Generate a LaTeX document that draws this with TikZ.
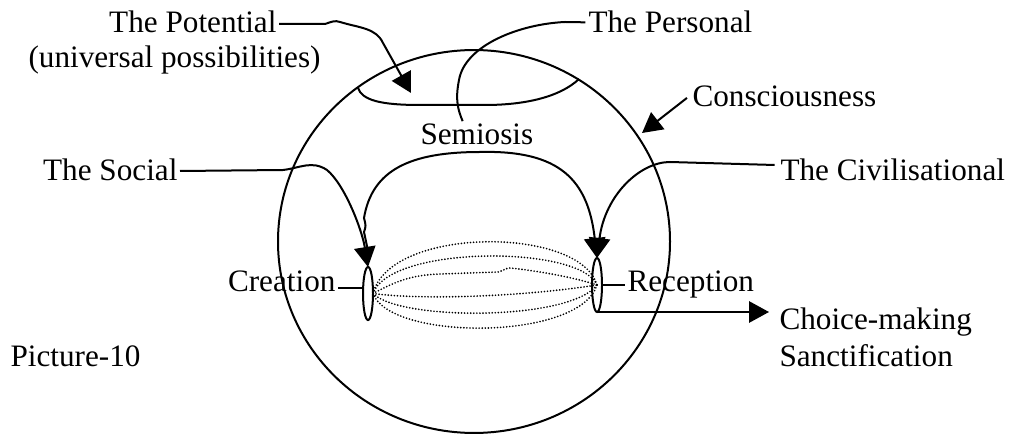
\documentclass[tikz,border=0pt]{standalone}
\usepackage{fontspec}
\setmainfont{Liberation Serif}
\usetikzlibrary{arrows.meta,calc,shapes.geometric}
\begin{document}
\begin{tikzpicture}[x=0.375pt,y=-0.375pt,
  lbl/.style={inner sep=0pt,font=\fontsize{11.7}{13}\selectfont},
  ln/.style={line width=0.75pt},
  arr/.style={ln,-{Triangle[length=7.5pt,width=8pt]}},
  dots/.style={line width=0.7pt,line cap=round,dash pattern=on 0pt off 1.15pt},
  lens/.style={ellipse,draw,ln,inner sep=0pt,outer sep=0pt}
]
\useasboundingbox (0,0) rectangle (1012,434);
% labels
\node[lbl,anchor=base east] (potential) at (277,33) {The Potential};
\node[lbl,anchor=base west] (potential2) at (28,68) {(universal possibilities)};
\node[lbl,anchor=base west] (personal) at (588,33) {The Personal};
\node[lbl,anchor=base west] (consc) at (692,107) {Consciousness};
\node[lbl,anchor=base west] (semiosis) at (420,145) {Semiosis};
\node[lbl,anchor=base east] (social) at (178,181) {The Social};
\node[lbl,anchor=base west] (civil) at (780,181) {The Civilisational};
\node[lbl,anchor=base east] (creation) at (336,292) {Creation};
\node[lbl,anchor=base west] (reception) at (627,292) {Reception};
\node[lbl,anchor=base west] (choice) at (779,329) {Choice-making};
\node[lbl,anchor=base west] (sanct) at (779,366) {Sanctification};
\node[lbl,anchor=base west] (picture) at (10,366) {Picture-10};
% shapes
\node[lens,minimum width=147pt,minimum height=143.6pt] (sphere) at (474,241.5) {};
\node[lens,minimum width=3.75pt,minimum height=19.9pt] (cre) at (368,293.5) {};
\node[lens,minimum width=3.75pt,minimum height=20.25pt] (rec) at (597,285) {};
\coordinate (potl) at (358,88);
\coordinate (potr) at (579,79);
\draw[ln] (potl) .. controls (362,100) and (380,105) .. (420,105)
  -- (485,105) .. controls (525,105) and (560,97) .. (potr);
\coordinate (potin) at (411,93);
\coordinate (consctip) at (642,133);
% connectors
\draw[arr] ([xshift=0.75pt,yshift=3.4pt]potential.base east) -- (325,24)
  .. controls (331,22) and (335,20) .. (340,22)
  .. controls (360,28) and (376,28) .. (383,43) -- (potin);
\draw[ln] ([xshift=-1pt,yshift=4pt]personal.base west) -- (565,22)
  .. controls (520,24) and (465,45) .. (459,80)
  .. controls (455,100) and (458,110) .. ([xshift=16pt,yshift=1pt]semiosis.north west);
\draw[arr] ([xshift=-1.9pt,yshift=3.4pt]consc.base west) -- (consctip);
\draw[arr] ([xshift=0.75pt,yshift=3.75pt]social.base east) -- (283,170)
  .. controls (300,168) and (312,160) .. (327,170)
  .. controls (345,185) and (362,230) .. (cre.north);
\draw[arr] ([yshift=6pt]cre.north) -- (364,232) .. controls (366,226) .. (364,218)
  .. controls (372,170) and (410,152) .. (480,152)
  .. controls (560,150) and (588,180) .. (rec.north);
\draw[arr] ([xshift=-2pt,yshift=6pt]civil.base west) -- (670,162)
  .. controls (640,162) and (605,195) .. (rec.north);
\draw[ln] ([xshift=0.75pt,yshift=1.5pt]creation.base east) -- ++(26,0);
\draw[ln] (rec.east) -- ++(23,0);
\draw[arr] (rec.south) -- ($(rec.south -| choice.base west)+(-10,0)$);
% dotted strands
\draw[dots] (cre.east) .. controls (390,226) and (580,226) .. (rec.center);
\draw[dots] (cre.east) .. controls (390,245) and (580,245) .. (rec.center);
\draw[dots] (cre.east) .. controls (395,282) and (410,275) .. (440,274) -- (498,272)
  .. controls (503,271) and (506,268) .. (510,268)
  .. controls (530,270) and (570,276) .. (rec.center);
\draw[dots] (cre.east) .. controls (420,300) and (520,297) .. (rec.center);
\draw[dots] (cre.east) .. controls (400,321) and (570,321) .. (rec.center);
\draw[dots] (cre.east) .. controls (390,341) and (580,341) .. (rec.center);
\end{tikzpicture}
\end{document}
